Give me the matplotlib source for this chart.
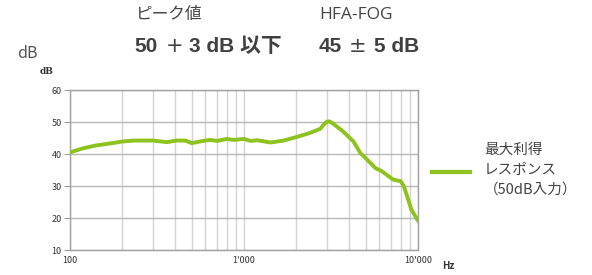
import matplotlib
matplotlib.use("Agg")
import matplotlib.pyplot as plt
from matplotlib.ticker import FixedLocator, FixedFormatter, NullFormatter

plt.rcParams['font.family'] = ['Noto Sans CJK JP', 'DejaVu Sans']

freq = [100, 119, 142, 170, 200, 232, 300, 360, 410, 460, 500, 585, 640, 700, 800, 870,
        1000, 1090, 1190, 1420, 1690, 2000, 2400, 2750, 2880, 3000, 3100, 3230, 3720, 4260, 4660,
        5110, 5690, 6200, 7200, 7950, 8300, 9150, 10000]
gain = [40.5, 41.8, 42.7, 43.3, 43.9, 44.2, 44.2, 43.7, 44.2, 44.2, 43.4, 44.1, 44.4, 44.1,
        44.7, 44.4, 44.7, 44.1, 44.3, 43.6, 44.2, 45.3, 46.6, 47.9, 49.3, 50.1, 50.2, 49.6, 47.0, 43.9,
        40.3, 38.2, 35.6, 34.6, 32.0, 31.5, 29.9, 22.7, 19.1]
yticks = [10, 20, 30, 40, 50, 60]
xticks = [100, 1000, 10000]
xticklabels = ["100", "1'000", "10'000"]
legend_label = "最大利得\nレスポンス\n（50dB入力）"

W, H = 592, 275
fig = plt.figure(figsize=(W / 100, H / 100), dpi=100)
ax = fig.add_axes([70 / W, 1 - 250 / H, (418 - 70) / W, (250 - 90) / H])

ax.plot(freq, gain, color='#8dc21f', lw=2.8, solid_capstyle='round', solid_joinstyle='round', zorder=3)
ax.set_xscale('log')
ax.set_xlim(100, 10000)
ax.set_ylim(10, 60)
ax.xaxis.set_major_locator(FixedLocator(xticks))
ax.xaxis.set_major_formatter(FixedFormatter(xticklabels))
minor = [m * d for d in (100, 1000) for m in range(2, 10)]
ax.xaxis.set_minor_locator(FixedLocator(minor))
ax.xaxis.set_minor_formatter(NullFormatter())
ax.set_yticks(yticks)
ax.grid(True, which='major', axis='y', color='#b8b8b8', lw=1.0)
ax.grid(True, which='both', axis='x', color='#d4d4d4', lw=1.0)
for s in ax.spines.values():
    s.set_color('#a0a0a0')
    s.set_linewidth(1.0)
ax.tick_params(axis='both', which='both', length=0, labelsize=6.5, colors='#333333', pad=4)
ax.tick_params(axis='y', length=4, color='#a0a0a0', pad=2)

fig.text(40 / W, 1 - 72 / H, "dB", fontsize=6.5, fontweight='bold', color='#333333',
         ha='left', va='center', family=['DejaVu Serif'])
fig.text(448 / W, 1 - 266 / H, "Hz", fontsize=7, fontweight='bold', color='#333333',
         ha='center', va='center')
fig.text(17 / W, 1 - 53 / H, "dB", fontsize=11.5, color='#555555', ha='left', va='center')

fig.text(136 / W, 1 - 15 / H, "ピーク値", fontsize=12, color='#444444', ha='left', va='center')
fig.text(319 / W, 1 - 15 / H, "HFA-FOG", fontsize=12.5, color='#444444', ha='left', va='center',
         family=['Open Sans', 'Noto Sans CJK JP'])

bold_fam = ['Liberation Sans', 'Noto Sans CJK JP']
yb = 1 - 46 / H
col = '#404040'
fig.text(134 / W, yb, "50", fontsize=15, fontweight='bold', color=col, ha='left', va='center', family=bold_fam)
fig.text(175 / W, yb, "+", fontsize=15, color=col, ha='center', va='center', family=['DejaVu Sans'])
fig.text(189 / W, yb, "3 dB 以下", fontsize=15, fontweight='bold', color=col, ha='left', va='center', family=bold_fam)
fig.text(319 / W, yb, "45", fontsize=15, fontweight='bold', color=col, ha='left', va='center', family=bold_fam)
fig.text(357.5 / W, yb, "±", fontsize=15, color=col, ha='center', va='center', family=['DejaVu Sans'])
fig.text(374 / W, yb, "5 dB", fontsize=15, fontweight='bold', color=col, ha='left', va='center', family=bold_fam)

fig.add_artist(plt.Line2D([432 / W, 470 / W], [1 - 172 / H, 1 - 172 / H], color='#8dc21f', lw=3))
fig.text(484 / W, 1 - 170 / H, legend_label, fontsize=10.5, color='#444444', ha='left',
         va='center', linespacing=1.55)

fig.savefig("out.png", dpi=100)
